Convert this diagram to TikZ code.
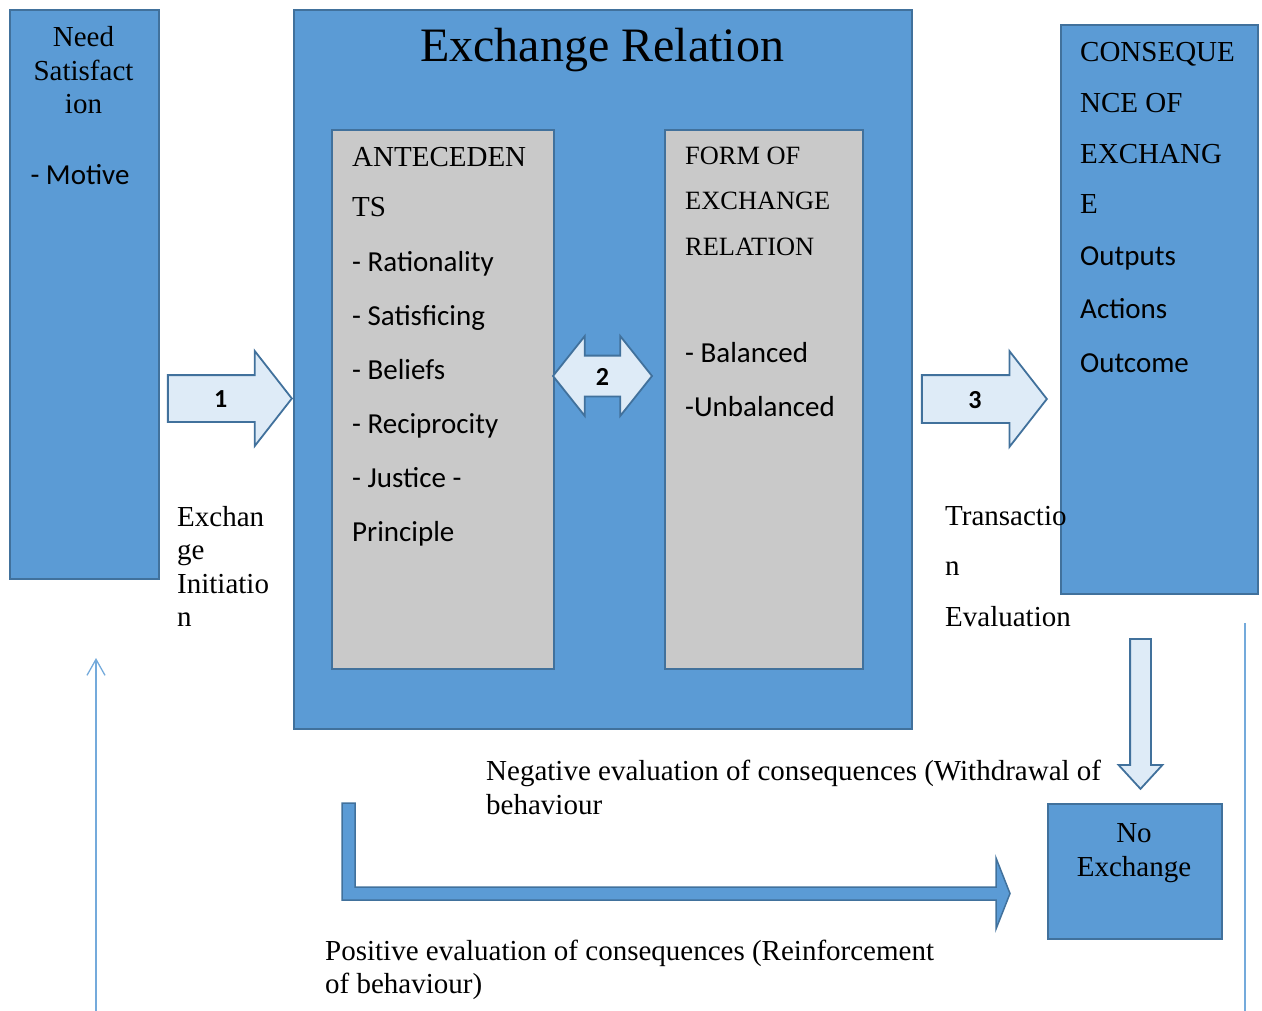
\documentclass[tikz,border=0pt]{standalone}
\usepackage{fontspec}
\setmainfont{Liberation Serif}
\setsansfont{Carlito}
\usetikzlibrary{positioning,shapes.arrows,arrows.meta}
\definecolor{boxblue}{HTML}{5B9BD5}
\definecolor{edgeblue}{HTML}{41719C}
\definecolor{paleblue}{HTML}{DEEBF7}
\definecolor{boxgrey}{HTML}{C9C9C9}

\begin{document}
\begin{tikzpicture}[x=1pt, y=-1pt,
  bluebox/.style={draw=edgeblue, fill=boxblue, line width=1.8pt, anchor=north west, inner sep=0pt},
  greybox/.style={bluebox, fill=boxgrey},
  serif/.style={font=\fontsize{29}{#1}\selectfont, inner sep=0pt, anchor=base west, align=left},
  sans/.style={font=\sffamily\fontsize{29}{#1}\selectfont, inner sep=0pt, anchor=base west, align=left},
  numarrow/.style={single arrow, draw=edgeblue, fill=paleblue, line width=1.8pt, inner sep=0pt,
    single arrow tip angle=104, font=\sffamily\bfseries\fontsize{26}{26}\selectfont},
  thinline/.style={draw=boxblue!85!white, line width=1.3pt}
]
\useasboundingbox (0,0) rectangle (1262,1011);

\node [bluebox, minimum width=149, minimum height=569] (need) at (9,9) {};
\node [bluebox, minimum width=618, minimum height=719] (exch) at (293,9) {};
\node [greybox, minimum width=222, minimum height=539] (ante) at (331,129) {};
\node [greybox, minimum width=198, minimum height=539] (form) at (664,129) {};
\node [bluebox, minimum width=197, minimum height=569] (cons) at (1060,24) {};
\node [bluebox, minimum width=174, minimum height=135] (none) at (1047,803) {};

\node [serif=33.5, anchor=base, align=center] (needtxt) at (83.5,114) {Need\\Satisfact\\ion};
\node [sans=33.5, anchor=base] (motive) at (80,185) {- Motive};
\node [font=\fontsize{48}{56}\selectfont, inner sep=0pt, anchor=base] (title) at (602,62) {Exchange Relation};
\node [serif=50] (antehead) at (352,217) {ANTECEDEN\\TS};
\node [sans=54] (antelist) at (352,541) {- Rationality\\- Satisficing\\- Beliefs\\- Reciprocity\\- Justice -\\Principle};
\node [serif=46, font=\fontsize{26.4}{46}\selectfont] (formhead) at (685,256) {FORM OF\\EXCHANGE\\RELATION};
\node [sans=54] (formlist) at (685,416) {- Balanced\\-Unbalanced};
\node [serif=50.7] (conshead) at (1080,214) {CONSEQUE\\NCE OF\\EXCHANG\\E};
\node [sans=53.5] (conslist) at (1080,372) {Outputs\\Actions\\Outcome};
\node [serif=34, anchor=base, align=center] (nonetxt) at (1134,876) {No\\Exchange};

\node [numarrow, minimum height=124, single arrow head extend=24, text height=31.5pt, text depth=13.5pt,
  anchor=tip] (a1) at (293,398.5) {1};
\node [numarrow, double arrow, double arrow tip angle=103, double arrow head extend=19.5, minimum height=99,
  text height=28.5pt, text depth=10.5pt] (a2) at (602.5,376) {2};
\node [numarrow, minimum height=125, single arrow head extend=24, text height=32pt, text depth=14pt,
  anchor=tip] (a3) at (1048,399) {3};
\node [numarrow, rotate=-90, minimum height=150, single arrow head extend=11.5, single arrow tip angle=85,
  text height=9.5pt, text depth=9.5pt, anchor=tail] (a4) at (1140.5,638) {};

\node [serif=33.5] (initiation) at (177,626.5) {Exchan\\ge\\Initiatio\\n};
\node [serif=50.5] (evaluation) at (945,626) {Transactio\\n\\Evaluation};
\node [serif=34] (negative) at (486,814) {Negative evaluation of consequences (Withdrawal of\\behaviour};
\node [serif=33] (positive) at (325,993) {Positive evaluation of consequences (Reinforcement\\of behaviour)};

\draw [fill=boxblue, draw=edgeblue, line width=1.5pt] (342,803) -- (355,803) -- (355,887) -- (996,887)
  -- (996,858) -- (1010,893.5) -- (996,929) -- (996,900) -- (342,900) -- cycle;

\coordinate (feedfoot) at (96,1011);
\coordinate (feedhead) at (96,658);
\coordinate (railtop) at (1245,623);
\coordinate (railfoot) at (1245,1011);
\draw [thinline, -{Straight Barb[length=16pt, width=18pt]}] (feedfoot) -- (feedhead);
\draw [thinline] (railtop) -- (railfoot);
\end{tikzpicture}
\end{document}
